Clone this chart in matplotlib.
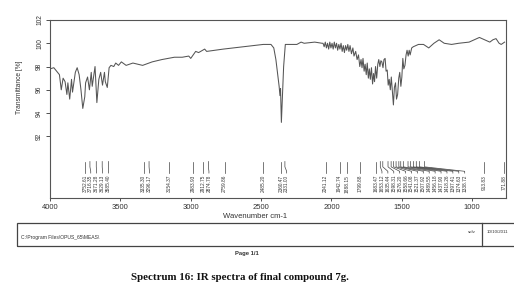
import matplotlib
matplotlib.use("Agg")
import matplotlib.pyplot as plt
from matplotlib.patches import Rectangle
from matplotlib.lines import Line2D

# spectrum (cm-1, %T)
wavenumber = [
    4000, 3973, 3947, 3933, 3920, 3907, 3893, 3880, 3873, 3860, 3847, 3840,
    3820, 3807, 3793, 3780, 3767, 3753, 3747, 3733, 3720, 3707, 3700, 3680,
    3667, 3653, 3640, 3627, 3613, 3607, 3593, 3580, 3567, 3547, 3533, 3513,
    3493, 3459, 3411, 3342, 3274, 3205, 3116, 3060, 3014, 3000, 2965, 2944,
    2901, 2887, 2768, 2627, 2485, 2430, 2410, 2395, 2372, 2366, 2362, 2356,
    2348, 2340, 2328, 2291, 2246, 2216, 2194, 2119, 2067,
    2060, 2052, 2044, 2036, 2028, 2020, 2012, 2004, 1996, 1988, 1980, 1972,
    1964, 1956, 1948, 1940, 1932, 1924, 1916, 1908, 1900, 1892, 1884, 1876,
    1868, 1858, 1848, 1840, 1828, 1818, 1808, 1799, 1790, 1783, 1776, 1768,
    1761, 1753, 1746, 1738, 1731, 1724, 1716, 1708, 1701, 1694, 1687, 1679,
    1671, 1664, 1656, 1649, 1642, 1634, 1627, 1619, 1612, 1604, 1597, 1590,
    1582, 1575, 1567, 1560, 1553, 1545, 1538, 1530, 1522, 1515, 1507, 1500,
    1493, 1486, 1478, 1470, 1463, 1455, 1448, 1441, 1430, 1419, 1382, 1346,
    1309, 1272, 1235, 1199, 1147, 1096, 1022, 949, 912, 875, 853, 831, 809,
    794, 770,
]
transmittance = [
    97.8, 97.9, 97.5, 97.3, 96.0, 97.0, 96.7, 95.6, 96.6, 95.2, 96.9, 95.8,
    97.5, 97.9, 97.3, 96.0, 94.4, 95.4, 96.6, 97.1, 96.0, 97.5, 96.3, 98.0,
    94.9, 96.9, 97.5, 96.4, 97.5, 96.7, 96.2, 97.9, 98.1, 98.0, 98.3, 98.1,
    98.4, 98.1, 98.3, 98.1, 98.4, 98.6, 98.8, 98.8, 98.9, 98.7, 99.3, 99.2,
    99.5, 99.3, 99.5, 99.7, 99.9, 99.9, 99.6, 98.6, 96.3, 95.5, 96.1, 93.2,
    95.6, 98.0, 99.9, 99.9, 99.9, 100.1, 100.0, 100.1, 100.0,
    100.0, 99.7, 100.1, 99.6, 100.0, 99.5, 100.1, 99.6, 100.0, 99.5, 100.1, 99.6,
    100.0, 99.4, 99.9, 99.5, 100.0, 99.3, 99.8, 99.2, 99.8, 99.4, 99.9, 99.3,
    99.8, 99.1, 99.6, 98.9, 99.3, 98.6, 99.0, 98.0, 98.6, 97.9, 98.7, 97.6,
    98.2, 97.3, 98.3, 97.0, 97.8, 96.9, 97.9, 96.5, 97.4, 96.7, 98.0, 97.0,
    98.2, 98.6, 98.0, 98.5, 98.4, 97.9, 98.6, 98.7, 97.6, 97.7, 96.4, 96.9,
    96.0, 97.1, 95.8, 94.7, 96.2, 96.6, 95.2, 95.6, 97.0, 97.5, 96.3, 97.1,
    98.7, 97.8, 98.1, 99.0, 99.4, 98.9, 99.4, 99.0, 99.6, 99.7, 99.9, 99.9,
    99.6, 100.0, 100.3, 100.0, 99.9, 100.0, 100.1, 100.5, 100.3, 100.1, 100.3, 100.4, 100.0,
    99.9, 100.1,
]

# peak picks printed along the bottom of the frame
peak_labels = [
    3752.61, 3716.35, 3671.28, 3629.13, 3585.40, 3335.30, 3296.17, 3154.37,
    2983.93, 2912.75, 2874.78, 2759.86, 2485.20, 2360.47, 2331.00, 2041.12,
    1942.74, 1888.15, 1799.88, 1683.47, 1653.12, 1635.44, 1598.31, 1576.20,
    1558.66, 1541.08, 1521.37, 1507.92, 1489.55, 1456.18, 1437.90, 1418.26,
    1397.41, 1374.63, 1338.72, 913.83, 771.88,
]

x_ticks = [4000, 3500, 3000, 2500, 2000, 1500, 1000]
y_ticks = [92, 94, 96, 98, 100, 102]

plt.rcParams['font.family'] = ['Liberation Sans', 'DejaVu Sans']

W, H = 514, 286
fig = plt.figure(figsize=(W / 100, H / 100), dpi=100)
ax = fig.add_axes([50 / W, 1 - 198 / H, 456 / W, 178 / H])

ax.plot(wavenumber, transmittance, color='#555555', lw=0.75)
ax.set_xlim(4000, 760)
ax.set_ylim(86.7, 102)
ax.set_xticks(x_ticks)
ax.set_yticks(y_ticks)

for s in ax.spines.values():
    s.set_color('#555555')
    s.set_linewidth(0.8)
ax.tick_params(axis='x', direction='out', length=2.5, width=0.6,
               labelsize=5.5, pad=2, colors='#333333')
ax.tick_params(axis='y', direction='out', length=3, width=0.6,
               labelsize=4.8, pad=2, colors='#333333', labelrotation=90)
for lab in ax.get_yticklabels():
    lab.set_va('center')

ax.set_ylabel('Transmittance [%]', fontsize=4.8, color='#333333')
ax.yaxis.set_label_coords(-0.06, 0.62)

# peak labels, pushed apart where they crowd
trans = ax.get_xaxis_transform()
gap = 42
prev = None
for p in peak_labels:
    t = p if prev is None else min(p, prev - gap)
    prev = t
    ax.plot([p, p, t, t], [0.205, 0.175, 0.150, 0.140], transform=trans,
            color='#444444', lw=0.5)
    ax.text(t, 0.13, f"{p:.2f}", rotation=90, ha='center', va='top',
            fontsize=3.4, color='#333333', transform=trans)

fig.text(255 / W, 1 - 216 / H, 'Wavenumber cm-1', fontsize=5.5,
         ha='center', va='center', color='#333333')

# footer box of the printout
fig.patches.append(Rectangle((17 / W, 1 - 246 / H), 1.1, 23 / H,
                             transform=fig.transFigure, fill=False,
                             ec='#444444', lw=0.9))
fig.lines.append(Line2D([482 / W, 482 / W], [1 - 246 / H, 1 - 223 / H],
                        transform=fig.transFigure, color='#444444', lw=0.9))
fig.text(21 / W, 1 - 237 / H, 'C:\\Program Files\\OPUS_65\\MEAS\\',
         fontsize=3.6, va='center', color='#333333')
fig.text(468 / W, 1 - 232 / H, 'solv', fontsize=3.2, va='center', color='#333333')
fig.text(487 / W, 1 - 232 / H, '10/10/2011', fontsize=3.2, va='center',
         color='#333333')
fig.text(247 / W, 1 - 254 / H, 'Page 1/1', fontsize=4.2, ha='center',
         va='center', fontweight='bold', color='#333333')

fig.text(240 / W, 1 - 278 / H, 'Spectrum 16: IR spectra of final compound 7g.',
         fontsize=7.8, ha='center', va='center', fontweight='bold',
         family='Liberation Serif', color='#111111')

fig.savefig('out.png', dpi=100)
